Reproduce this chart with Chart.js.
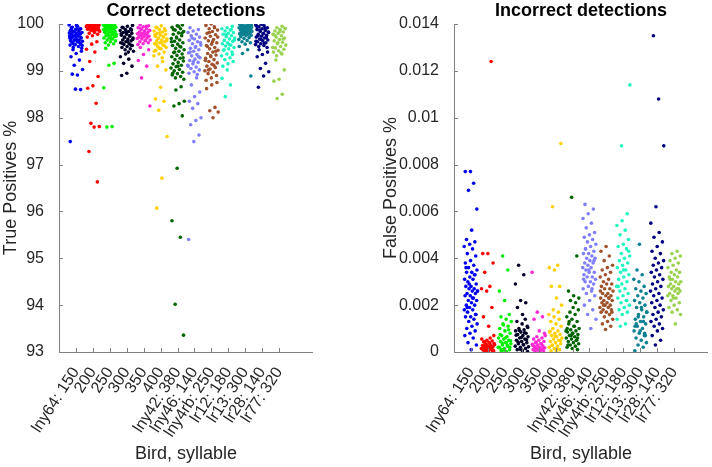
<!DOCTYPE html>
<html>
<head>
<meta charset="utf-8">
<script src="https://cdn.jsdelivr.net/npm/chart.js@4.4.1/dist/chart.umd.min.js"></script>
<style>
  body { margin: 0; background: #fff; }
  #wrap { position: relative; width: 712px; height: 467px; }
  canvas { position: absolute; top: 0; }
</style>
</head>
<body>
<div id="wrap">
  <canvas id="left" width="356" height="467" style="left:0"></canvas>
  <canvas id="right" width="356" height="467" style="left:356px"></canvas>
</div>
<script>
const birds = ["lny64: 150", "200", "250", "300", "350", "400", "lny42: 380", "lny46: 140",
               "lny4rb: 250", "lr12: 180", "lr13: 300", "lr28: 140", "lr77: 320"];
const colors = ["#0000f0", "#ff0000", "#00f000", "#000028", "#ff2ad4", "#ffd000", "#006400",
                "#8080ff", "#a0522d", "#1ef5c0", "#0a8090", "#000080", "#9ad250"];

// True positives %, one array per bird/syllable
const tp1 = [99.98,99.95,99.93,99.9,99.88,99.86,99.85,99.83,99.82,99.8,99.79,99.78,99.76,99.75,99.74,99.72,99.7,99.69,99.68,99.66,99.65,99.63,99.62,99.6,99.58,99.56,99.55,99.52,99.5,99.48,99.97,99.92,99.89,99.84,99.81,99.77,99.73,99.71,99.67,99.64,99.61,99.57,99.54,99.9,99.86,99.8,99.75,99.7,99.65,99.45,99.42,99.37,99.3,99.23,99.12,99.03,98.91,98.93,98.6,98.61,97.49];
const tp2 = [100,99.99,99.98,99.97,99.96,99.95,99.94,99.93,99.92,99.91,99.9,99.89,99.88,99.87,99.86,99.85,99.99,99.98,99.97,99.96,99.95,99.94,99.93,99.92,99.9,99.88,99.86,99.84,99.82,99.8,99.78,99.75,99.72,100,99.99,99.97,99.95,99.93,99.62,99.57,99.46,99.4,99.2,98.88,98.68,98.63,98.31,97.88,97.81,97.8,97.28,96.63];
const tp3 = [100,99.99,99.98,99.97,99.96,99.95,99.94,99.93,99.92,99.91,99.9,99.89,99.88,99.87,99.85,99.84,99.83,99.82,99.8,99.79,99.78,99.76,99.75,99.73,99.71,99.7,99.68,99.66,99.64,99.62,99.6,99.58,99.55,99.98,99.96,99.94,99.92,99.9,99.86,99.81,99.77,99.74,99.69,99.48,99.16,99.12,98.64,97.81,97.8];
const tp4 = [99.97,99.95,99.93,99.9,99.88,99.86,99.84,99.82,99.8,99.78,99.76,99.74,99.72,99.7,99.68,99.66,99.64,99.62,99.6,99.58,99.56,99.54,99.52,99.5,99.47,99.45,99.42,99.4,99.92,99.87,99.83,99.79,99.75,99.71,99.67,99.63,99.59,99.55,99.36,99.3,99.25,99.16,99.1,98.95,98.9];
const tp5 = [99.98,99.96,99.94,99.92,99.9,99.88,99.86,99.85,99.83,99.82,99.8,99.79,99.77,99.76,99.74,99.73,99.71,99.7,99.68,99.66,99.64,99.62,99.6,99.58,99.56,99.95,99.9,99.86,99.81,99.78,99.75,99.72,99.69,99.65,99.5,99.45,99.35,99.22,99.1,98.85,98.25];
const tp6 = [99.96,99.93,99.9,99.88,99.85,99.83,99.8,99.78,99.76,99.74,99.72,99.7,99.68,99.66,99.64,99.62,99.6,99.58,99.55,99.52,99.5,99.47,99.44,99.4,99.36,99.32,99.28,99.92,99.86,99.81,99.77,99.73,99.69,99.65,99.61,99.57,99.53,99.48,99.42,99.2,99.1,99.02,98.65,98.4,98.35,98.16,97.6,96.71,96.07];
const tp7 = [99.98,99.96,99.93,99.9,99.87,99.84,99.81,99.78,99.75,99.72,99.69,99.66,99.63,99.6,99.57,99.54,99.51,99.48,99.45,99.42,99.39,99.36,99.33,99.3,99.27,99.24,99.21,99.18,99.15,99.12,99.09,99.06,99.03,99,98.97,98.94,98.91,98.88,98.85,98.82,99.95,99.88,99.8,99.7,99.62,99.52,99.4,99.28,99.1,98.95,98.66,98.59,98.35,98.3,98.25,98.04,96.92,95.8,95.45,94.02,93.36];
const tp8 = [99.92,99.88,99.85,99.82,99.78,99.75,99.72,99.68,99.65,99.62,99.58,99.55,99.52,99.48,99.45,99.42,99.38,99.35,99.32,99.28,99.25,99.22,99.18,99.15,99.12,99.08,99.05,99.02,98.98,98.95,98.92,99.7,99.6,99.5,99.4,99.3,99.2,99.1,98.85,98.7,98.55,98.45,98.35,98.3,98.2,98.0,97.94,97.85,97.63,97.49,95.4];
const tp9 = [100,99.97,99.94,99.9,99.87,99.84,99.8,99.77,99.74,99.7,99.67,99.64,99.6,99.57,99.54,99.5,99.47,99.44,99.4,99.37,99.34,99.3,99.27,99.24,99.2,99.17,99.14,99.1,99.07,99.04,99,98.97,98.94,98.9,98.85,98.8,99.92,99.82,99.72,99.62,99.52,99.42,99.32,99.22,99.12,99.02,98.75,98.7,98.62,98.22,98.15,98.12,98.0];
const tp10 = [99.95,99.92,99.9,99.87,99.85,99.82,99.8,99.78,99.75,99.73,99.7,99.68,99.65,99.63,99.6,99.58,99.55,99.53,99.5,99.47,99.44,99.4,99.36,99.32,99.28,99.24,99.2,99.15,99.1,99.88,99.77,99.66,99.56,99.45,99.35,99.02,98.84,98.7,98.45];
const tp11 = [100,99.99,99.98,99.97,99.96,99.95,99.94,99.93,99.92,99.91,99.9,99.89,99.88,99.87,99.86,99.85,99.84,99.83,99.82,99.81,99.8,99.79,99.78,99.77,99.76,99.75,99.73,99.71,99.69,99.67,99.65,99.62,99.6,99.57,99.99,99.97,99.95,99.93,99.91,99.88,99.85,99.82,99.52,99.45,99.37,98.89];
const tp12 = [100,99.98,99.96,99.94,99.92,99.9,99.88,99.86,99.84,99.82,99.8,99.78,99.76,99.74,99.72,99.7,99.68,99.66,99.64,99.62,99.6,99.58,99.56,99.54,99.52,99.5,99.99,99.95,99.91,99.87,99.83,99.79,99.75,99.71,99.67,99.63,99.59,99.45,99.4,99.35,99.3,99.16,99.05,98.98,98.89,98.65];
const tp13 = [99.95,99.92,99.9,99.88,99.85,99.83,99.8,99.78,99.75,99.72,99.7,99.67,99.64,99.61,99.58,99.55,99.52,99.49,99.46,99.43,99.4,99.36,99.32,99.91,99.84,99.76,99.68,99.6,99.5,99.38,99.23,99.02,98.82,98.78,98.5,98.41];

// False positives %, one array per bird/syllable
const fp1 = [0.0045,0.0044,0.0042,0.0041,0.0039,0.0038,0.0037,0.0036,0.0035,0.0034,0.0034,0.0033,0.0032,0.0031,0.0031,0.003,0.0029,0.0028,0.0028,0.0027,0.0027,0.0026,0.0026,0.0025,0.0025,0.0024,0.0024,0.0023,0.0022,0.0022,0.0021,0.002,0.002,0.0019,0.0018,0.0018,0.0017,0.0016,0.0015,0.0015,0.0014,0.0013,0.0012,0.0011,0.001,0.0009,0.0008,0.0007,0.0006,0.0004,0.0003,0.0001,0.0036,0.0033,0.0029,0.0026,0.0023,0.0019,0.0016,0.0077,0.0077,0.0072,0.0069,0.0061,0.0052,0.0048,0.0047,0.0046];
const fp2 = [0,0.00002,0.00005,0.00008,0.0001,0.00012,0.00015,0.00018,0.0002,0.00022,0.00025,0.00028,0.0003,0.00033,0.00036,0.0004,0.00043,0.00047,0.0005,0.00055,0.0006,0.00003,0.00007,0.00011,0.00016,0.00021,0.00026,0.00031,0.00038,0.00045,0.00001,0.00009,0.00014,0.00024,0.00035,0.0007,0.0011,0.0015,0.0019,0.0026,0.0027,0.0028,0.0034,0.0038,0.0042,0.0042,0.0124];
const fp3 = [0.00002,0.00005,0.0001,0.00015,0.0002,0.00025,0.0003,0.00035,0.0004,0.00045,0.0005,0.00055,0.0006,0.00065,0.0007,0.0008,0.0009,0.001,0.0011,0.0012,0.0013,0.0014,0.0015,0.0016,0.00008,0.00018,0.00028,0.00038,0.00048,0.0006,0.00075,0.00095,0.00115,0.0002,0.0004,0.0001,0.0002,0.0022,0.0026,0.0035,0.0041];
const fp4 = [0.00002,0.00006,0.0001,0.00015,0.0002,0.00025,0.0003,0.00035,0.0004,0.00045,0.0005,0.00055,0.0006,0.00065,0.0007,0.00075,0.0008,0.00085,0.0009,0.00095,0.001,0.0011,0.0012,0.0013,0.0014,0.00012,0.00022,0.00032,0.00042,0.00052,0.00062,0.00072,0.00082,0.00092,0.00105,0.0016,0.0019,0.0021,0.0022,0.0029,0.0033,0.0037];
const fp5 = [0.00002,0.00005,0.00008,0.0001,0.00012,0.00015,0.00018,0.0002,0.00023,0.00026,0.0003,0.00033,0.00036,0.0004,0.00045,0.0005,0.00055,0.0006,0.00065,0.0007,0.00004,0.0001,0.00016,0.00022,0.00028,0.00035,0.00042,0.0008,0.0009,0.0014,0.0015,0.0017,0.0034];
const fp6 = [0.00002,0.00005,0.0001,0.00015,0.0002,0.00025,0.0003,0.00035,0.0004,0.00045,0.0005,0.00055,0.0006,0.00065,0.0007,0.00075,0.0008,0.00085,0.0009,0.001,0.0011,0.0012,0.0013,0.0014,0.0015,0.0016,0.00012,0.00028,0.00048,0.00068,0.00088,0.0017,0.0018,0.002,0.0023,0.0028,0.0028,0.0035,0.0036,0.0037,0.0062,0.0089];
const fp7 = [0.0001,0.00015,0.0002,0.00025,0.0003,0.00035,0.0004,0.00045,0.0005,0.00055,0.0006,0.00065,0.0007,0.00075,0.0008,0.00085,0.0009,0.00095,0.001,0.0011,0.0012,0.0013,0.0014,0.0015,0.0016,0.0017,0.0018,0.0019,0.0003,0.0005,0.0007,0.0009,0.0011,0.0013,0.0006,0.0008,0.001,0.0021,0.0022,0.0023,0.0024,0.0026,0.0041,0.0066];
const fp8 = [0.0063,0.0061,0.0059,0.0057,0.0055,0.0053,0.0051,0.005,0.0049,0.0048,0.0047,0.0046,0.0045,0.0044,0.0043,0.0042,0.0042,0.0041,0.004,0.004,0.0039,0.0038,0.0038,0.0037,0.0036,0.0036,0.0035,0.0034,0.0034,0.0033,0.0032,0.0032,0.0031,0.003,0.003,0.0029,0.0028,0.0027,0.0026,0.0025,0.0024,0.0022,0.002,0.0018,0.0016,0.0014,0.001,0.0044,0.0039,0.0035,0.0031,0.0027];
const fp9 = [0.0045,0.0043,0.0041,0.0039,0.0037,0.0036,0.0035,0.0034,0.0033,0.0032,0.0031,0.003,0.0029,0.0029,0.0028,0.0027,0.0027,0.0026,0.0025,0.0025,0.0024,0.0024,0.0023,0.0023,0.0022,0.0022,0.0021,0.0021,0.002,0.002,0.0019,0.0019,0.0018,0.0018,0.0017,0.0017,0.0016,0.0015,0.0014,0.0013,0.0012,0.0011,0.00096,0.0026,0.0023,0.002,0.0017];
const fp10 = [0.0059,0.0056,0.0054,0.0052,0.005,0.0048,0.0046,0.0045,0.0044,0.0042,0.0041,0.004,0.0039,0.0038,0.0037,0.0036,0.0035,0.0034,0.0033,0.0032,0.0031,0.003,0.0029,0.0028,0.0027,0.0026,0.0025,0.0024,0.0023,0.0022,0.0021,0.002,0.0019,0.0018,0.0017,0.0016,0.0014,0.0012,0.0011,0.0043,0.0035,0.0028,0.0022,0.0088,0.0114];
const fp11 = [0.00005,0.0002,0.0003,0.0004,0.0005,0.0006,0.0007,0.0008,0.0009,0.001,0.0011,0.0012,0.0013,0.0014,0.0015,0.0016,0.0017,0.0018,0.0019,0.002,0.0021,0.0022,0.0023,0.0024,0.0025,0.0026,0.0027,0.0028,0.003,0.0031,0.0033,0.0035,0.0007,0.0009,0.0011,0.0013,0.0015,0.0017,0.0019,0.0012,0.0008,0.0046];
const fp12 = [0.0062,0.0055,0.0051,0.0049,0.0047,0.0045,0.0043,0.0042,0.004,0.0039,0.0038,0.0037,0.0036,0.0035,0.0034,0.0033,0.0032,0.0031,0.003,0.0029,0.0028,0.0027,0.0026,0.0025,0.0024,0.0023,0.0022,0.0021,0.002,0.0019,0.0018,0.0017,0.0016,0.0015,0.0014,0.0013,0.0012,0.0011,0.001,0.0009,0.0007,0.0005,0.0003,0.0088,0.0108,0.0135];
const fp13 = [0.0043,0.0042,0.0041,0.004,0.0039,0.0038,0.0037,0.0036,0.0035,0.0034,0.0034,0.0033,0.0032,0.0032,0.0031,0.003,0.003,0.0029,0.0029,0.0028,0.0028,0.0027,0.0027,0.0026,0.0026,0.0025,0.0025,0.0024,0.0024,0.0023,0.0022,0.0021,0.002,0.0019,0.0018,0.0017,0.0016,0.0012,0.0031,0.0027,0.0023];

const tpData = [tp1, tp2, tp3, tp4, tp5, tp6, tp7, tp8, tp9, tp10, tp11, tp12, tp13];
const fpData = [fp1, fp2, fp3, fp4, fp5, fp6, fp7, fp8, fp9, fp10, fp11, fp12, fp13];
const tpTicks = [93, 94, 95, 96, 97, 98, 99, 100];
const fpTicks = [0, 0.002, 0.004, 0.006, 0.008, 0.01, 0.012, 0.014];

const FONT = "'Liberation Sans', Arial, Helvetica, sans-serif";
const AXIS = '#808080';

// strip-plot jitter around each category position
function jitter(k, i) {
    return ((i * 0.618034 + k * 0.31) % 1 - 0.5) * 0.8;
}

function makeDatasets(groups) {
    return groups.map((vals, k) => ({
        data: vals.map((v, i) => ({ x: k + 1 + jitter(k, i), y: v })),
        backgroundColor: colors[k],
        borderWidth: 0,
        pointRadius: 1.8
    }));
}

// MATLAB-like axes: lines on left/bottom, ticks pointing inward
const inwardAxes = {
    id: 'inwardAxes',
    afterDraw(chart) {
        const c = chart.ctx, a = chart.chartArea;
        const xs = chart.scales.x, ys = chart.scales.y;
        c.save();
        c.strokeStyle = AXIS;
        c.lineWidth = 1;
        c.beginPath();
        c.moveTo(a.left + 0.5, a.top);
        c.lineTo(a.left + 0.5, a.bottom + 0.5);
        c.lineTo(a.right, a.bottom + 0.5);
        xs.ticks.forEach(t => {
            const px = Math.round(xs.getPixelForValue(t.value)) + 0.5;
            c.moveTo(px, a.bottom);
            c.lineTo(px, a.bottom - 4);
        });
        ys.ticks.forEach(t => {
            const py = Math.round(ys.getPixelForValue(t.value)) + 0.5;
            c.moveTo(a.left, py);
            c.lineTo(a.left + 4, py);
        });
        c.stroke();
        c.restore();
    }
};

function makeChart(id, groups, title, ylabel, yTicks, yWidth, pad) {
    return new Chart(document.getElementById(id), {
        type: 'scatter',
        data: { datasets: makeDatasets(groups) },
        options: {
            responsive: false,
            animation: false,
            layout: { padding: pad },
            plugins: {
                legend: { display: false },
                tooltip: { enabled: false },
                title: {
                    display: true,
                    text: title,
                    fullSize: false,
                    color: '#000',
                    font: { family: FONT, size: 18, weight: 'bold' },
                    padding: { top: 0, bottom: 2.4 }
                }
            },
            scales: {
                x: {
                    type: 'linear',
                    min: 0,
                    max: 15,
                    grid: { display: false },
                    border: { display: false },
                    afterBuildTicks: s => { s.ticks = birds.map((b, i) => ({ value: i + 1 })); },
                    afterFit: s => { s.height = 113; s.paddingLeft = 0; s.paddingRight = 0; },
                    ticks: {
                        autoSkip: false,
                        minRotation: 57,
                        maxRotation: 57,
                        padding: 4,
                        color: '#262626',
                        font: { family: FONT, size: 16 },
                        callback: v => birds[v - 1]
                    },
                    title: {
                        display: true,
                        text: 'Bird, syllable',
                        color: '#262626',
                        font: { family: FONT, size: 18 },
                        padding: 0
                    }
                },
                y: {
                    min: yTicks[0],
                    max: yTicks[yTicks.length - 1],
                    grid: { display: false },
                    border: { display: false },
                    afterBuildTicks: s => { s.ticks = yTicks.map(v => ({ value: v })); },
                    afterFit: s => { s.width = yWidth; s.paddingTop = 0; s.paddingBottom = 0; },
                    ticks: {
                        padding: 7,
                        color: '#262626',
                        font: { family: FONT, size: 16 },
                        callback: v => String(parseFloat(v.toFixed(3)))
                    },
                    title: {
                        display: true,
                        text: ylabel,
                        color: '#262626',
                        font: { family: FONT, size: 18 },
                        padding: 0
                    }
                }
            }
        },
        plugins: [inwardAxes]
    });
}

makeChart('left', tpData, 'Correct detections', 'True Positives %', tpTicks, 59,
          { left: 0, right: 43, top: 0, bottom: 2 });
makeChart('right', fpData, 'Incorrect detections', 'False Positives %', fpTicks, 74,
          { left: 24, right: 3, top: 0, bottom: 2 });
</script>
</body>
</html>
